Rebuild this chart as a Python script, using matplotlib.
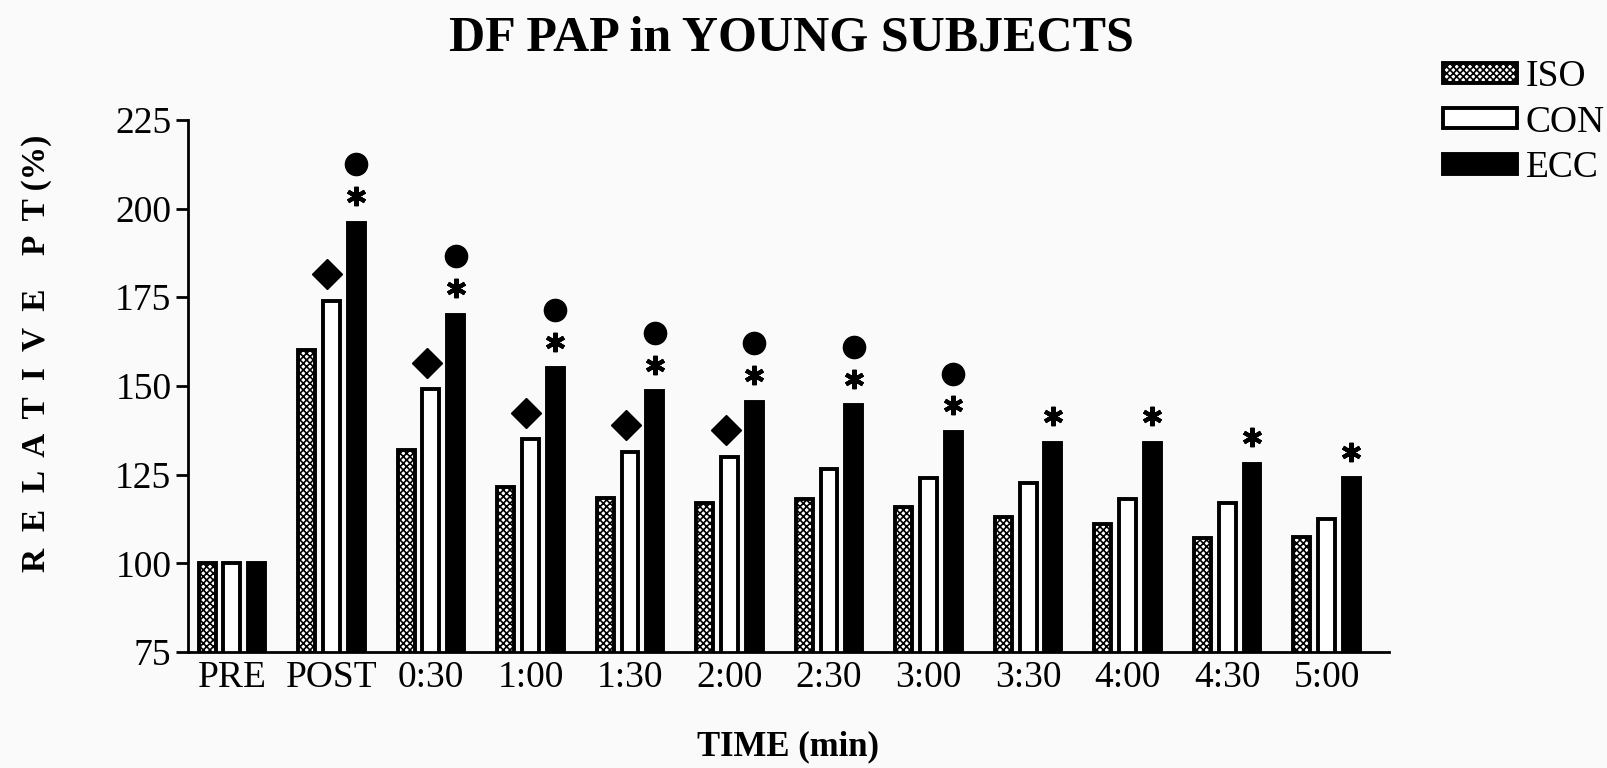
import numpy as np
import matplotlib.pyplot as plt
from matplotlib.patches import Patch

times = ['PRE', 'POST', '0:30', '1:00', '1:30', '2:00', '2:30', '3:00',
         '3:30', '4:00', '4:30', '5:00']
iso = [100, 160, 132, 121.5, 118.5, 117, 118, 116, 113, 111, 107, 107.5]
con = [100, 174, 149, 135, 131.5, 130, 126.5, 124, 122.5, 118, 117, 112.5]
ecc = [100, 196, 170, 155, 148.5, 145.5, 144.5, 137, 134, 134, 128, 124]

# significance marks: * over ECC, circle over ECC, diamond over CON
star_idx = [1, 2, 3, 4, 5, 6, 7, 8, 9, 10, 11]
circle_idx = [1, 2, 3, 4, 5, 6, 7]
diamond_idx = [1, 2, 3, 4, 5]

plt.rcParams['font.family'] = ['Liberation Serif', 'DejaVu Serif']
plt.rcParams['hatch.linewidth'] = 1.2

fig = plt.figure(figsize=(16.08, 7.68), dpi=100, facecolor='#fafafa')
ax = fig.add_axes([0.117, 0.151, 0.747, 0.693])
ax.set_facecolor('#fafafa')

x = np.arange(len(times))
w = 0.17
step = 0.25
lw = 2.8
ax.bar(x - step, iso, w, facecolor='white', edgecolor='black', hatch='xxxxx', linewidth=lw)
ax.bar(x, con, w, facecolor='white', edgecolor='black', linewidth=lw)
ax.bar(x + step, ecc, w, facecolor='black', edgecolor='black', linewidth=lw)

ecc = np.array(ecc)
con = np.array(con)
ax.plot(x[star_idx] + step, ecc[star_idx] + 7.5, ls='none', marker=(6, 2, 0),
        ms=14, mew=3, color='black', clip_on=False)
ax.plot(x[circle_idx] + step, ecc[circle_idx] + 16.5, ls='none', marker='o',
        ms=16, color='black', clip_on=False)
ax.plot(x[diamond_idx] - 0.04, con[diamond_idx] + 7.5, ls='none', marker='D',
        ms=15, color='black', clip_on=False)

ax.set_ylim(75, 225)
ax.set_xlim(-0.44, 11.63)
ax.set_yticks([75, 100, 125, 150, 175, 200, 225])
ax.set_xticks(x)
ax.set_xticklabels(times)
ax.tick_params(axis='y', length=9, width=2, labelsize=27, pad=3)
ax.tick_params(axis='x', length=0, labelsize=27, pad=6)
for s in ['top', 'right']:
    ax.spines[s].set_visible(False)
for s in ['left', 'bottom']:
    ax.spines[s].set_linewidth(2)

fig.text(0.492, 0.95, 'DF PAP in YOUNG SUBJECTS', ha='center', va='center',
         fontsize=36, fontweight='bold')
fig.text(0.49, 0.028, 'TIME (min)', ha='center', va='center',
         fontsize=25, fontweight='bold')
fig.text(0.023, 0.54, 'R  E  L  A  T  I  V  E    P  T (%)', ha='center', va='center',
         rotation=90, fontsize=24, fontweight='bold')

handles = [Patch(facecolor='white', edgecolor='black', hatch='xxxxx', linewidth=lw),
           Patch(facecolor='white', edgecolor='black', linewidth=lw),
           Patch(facecolor='black', edgecolor='black', linewidth=lw)]
fig.legend(handles, ['ISO', 'CON', 'ECC'], loc='upper left',
           bbox_to_anchor=(0.886, 0.947), frameon=False, fontsize=27,
           handlelength=1.95, handleheight=0.45, labelspacing=0.3,
           handletextpad=0.25, borderpad=0)

fig.savefig('out.png', dpi=100, facecolor=fig.get_facecolor())
